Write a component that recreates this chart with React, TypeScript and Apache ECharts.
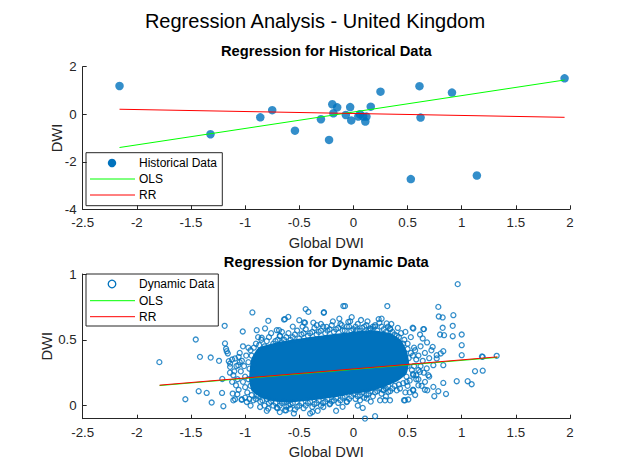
import React, { useEffect, useRef } from "react";
import * as echarts from "echarts";

const BLUE = "#0072BD";
const GREEN = "#00FF00";
const RED = "#FF0000";
const INK = "#262626";
const FONT = "'Liberation Sans', Arial, Helvetica, sans-serif";

const mainTitle = "Regression Analysis - United Kingdom";
const topTitle = "Regression for Historical Data";
const bottomTitle = "Regression for Dynamic Data";
const xLabel = "Global DWI";
const yLabel = "DWI";

const xTicks = [-2.5, -2, -1.5, -1, -0.5, 0, 0.5, 1, 1.5, 2];
const topYTicks = [-4, -2, 0, 2];
const bottomYTicks = [0, 0.5, 1];

// Historical data (global DWI, DWI)
const historical: number[][] = [
  [-2.16, 1.19], [-1.32, -0.84], [-0.86, -0.13], [-0.75, 0.17], [-0.7, 2.18],
  [-0.54, -0.69], [-0.3, -0.21], [-0.225, -1.08], [-0.195, 0.42], [-0.15, 0.29],
  [-0.185, 0.04], [-0.07, -0.03], [-0.03, 0.3], [-0.02, -0.26], [0.06, 0.0],
  [0.045, -0.1], [0.09, -0.1], [0.11, -0.31], [0.12, -0.1], [0.16, 0.32],
  [0.25, 0.95], [0.61, 1.18], [0.62, -0.14], [0.91, 0.91], [0.53, -2.73],
  [1.14, -2.58], [1.95, 1.51],
];
const histOLS: number[][] = [[-2.16, -1.4], [1.95, 1.44]];
const histRR: number[][] = [[-2.16, 0.21], [1.95, -0.13]];

// Dense core of the dynamic cloud (outline, data coordinates)
const dynamicCore: number[][] = [
  [-0.95, 0.2], [-0.93, 0.35], [-0.87, 0.43], [-0.7, 0.47], [-0.55, 0.49],
  [-0.4, 0.51], [-0.2, 0.53], [0.0, 0.55], [0.2, 0.56], [0.33, 0.54],
  [0.43, 0.49], [0.48, 0.41], [0.5, 0.33], [0.48, 0.25], [0.41, 0.2],
  [0.3, 0.16], [0.15, 0.12], [0.0, 0.1], [-0.2, 0.07], [-0.4, 0.05],
  [-0.6, 0.035], [-0.75, 0.045], [-0.86, 0.075], [-0.93, 0.12],
];

// Individually visible dynamic points (fringe and outliers)
const dynamicPoints: number[][] = [
  // far left outliers
  [-1.792, 0.33], [-1.456, 0.502], [-1.417, 0.37], [-1.552, 0.048], [-1.429, 0.109],
  [-1.355, 0.096], [-1.309, 0.023], [-1.318, 0.365], [-1.241, 0.34], [-1.189, 0.606],
  [-1.186, 0.472], [-1.211, 0.202], [-1.201, -0.005], [-1.213, 0.096], [-1.17, 0.413],
  [-1.176, 0.431], [-1.16, 0.396], [-1.151, 0.337], [-1.139, 0.319], [-1.139, 0.294],
  [-1.115, 0.091], [-1.093, 0.048], [-1.072, 0.086], [-1.031, 0.048], [-1.109, 0.231],
  [-1.084, 0.154], [-1.093, 0.358], [-1.063, 0.307], [-1.109, 0.04], [-1.032, 0.043],
  [-1.022, 0.563], [-0.933, 0.708], [-0.786, 0.644], [-0.847, 0.515], [-0.893, 0.573],
  [-0.816, 0.586], [-0.708, 0.573], [-0.678, 0.527], [-0.687, 0.573],
  // top outliers
  [-0.632, 0.657], [-0.601, 0.674], [-0.5, 0.649], [-0.441, 0.733], [-0.416, 0.712],
  [-0.447, 0.629], [-0.641, 0.654], [-0.456, 0.632], [-0.339, 0.611], [-0.274, 0.705],
  [-0.272, 0.71], [-0.247, 0.598], [-0.108, 0.611], [-0.093, 0.756], [-0.078, 0.756],
  [-0.047, 0.636], [-0.016, 0.672], [0.03, 0.573], [0.153, 0.586], [0.2, 0.611],
  [0.233, 0.657], [0.313, 0.756], [0.307, 0.624], [0.338, 0.586], [0.553, 0.586],
  [0.547, 0.591], [0.645, 0.581], [0.615, 0.54], [0.64, 0.51], [0.652, 0.581],
  // right outliers
  [0.963, 0.923], [0.788, 0.677], [0.917, 0.606], [1.0, 0.54], [0.917, 0.527],
  [0.824, 0.591], [0.8, 0.54], [0.837, 0.535], [0.923, 0.687], [0.784, 0.75],
  [0.824, 0.67], [1.0, 0.459], [0.732, 0.446], [0.83, 0.413], [0.806, 0.396],
  [0.769, 0.383], [1.0, 0.383], [1.187, 0.373], [1.323, 0.378], [1.194, 0.37],
  [1.123, 0.261], [1.194, 0.265], [0.954, 0.185], [1.055, 0.185], [1.092, 0.162],
  [0.83, 0.172], [0.855, 0.088], [0.747, 0.071], [0.784, 0.109], [0.738, 0.142],
  [0.682, 0.116], [0.6, 0.154], [0.661, 0.18], [0.692, 0.231], [0.738, 0.307],
  [0.677, 0.282], [0.615, 0.256], [0.83, 0.307], [0.769, 0.358], [0.553, 0.231],
  [0.492, 0.18], [0.553, 0.116], [0.467, 0.04], [0.507, 0.046], [0.476, 0.04],
  [0.4, 0.116], [0.322, 0.104], [0.276, 0.116],
  // bottom outliers
  [-0.509, -0.104], [-0.468, -0.104], [-0.426, -0.104], [-0.379, -0.049], [-0.585, -0.023],
  [-0.622, -0.036], [-0.278, -0.011], [-0.216, 0.015], [-0.062, 0.027], [0.086, -0.018],
  [0.107, -0.099], [0.2, -0.081], [0.061, 0.04], [0.123, 0.053], [0.246, 0.04],
  [0.292, 0.04], [0.338, 0.04], [-0.985, 0.027], [-0.924, 0.04], [-0.862, -0.011],
  [-0.786, -0.023], [-0.708, -0.015], [-0.632, -0.036], [-0.893, 0.078],
  // top fringe
  [-0.95, 0.42], [-0.9, 0.47], [-0.85, 0.5], [-0.82, 0.45], [-0.78, 0.52],
  [-0.72, 0.49], [-0.68, 0.53], [-0.64, 0.5], [-0.6, 0.55], [-0.56, 0.52],
  [-0.52, 0.57], [-0.48, 0.54], [-0.44, 0.58], [-0.4, 0.55], [-0.36, 0.59],
  [-0.32, 0.56], [-0.28, 0.6], [-0.24, 0.57], [-0.2, 0.61], [-0.16, 0.58],
  [-0.12, 0.62], [-0.08, 0.57], [-0.04, 0.6], [0.0, 0.58], [0.04, 0.62],
  [0.08, 0.59], [0.12, 0.61], [0.16, 0.58], [0.2, 0.6], [0.24, 0.63],
  [0.28, 0.58], [0.32, 0.6], [0.36, 0.56], [0.4, 0.53], [0.44, 0.55],
  [0.47, 0.5], [0.5, 0.47], [0.53, 0.52], [0.56, 0.44],
  [-0.92, 0.44], [-0.87, 0.46], [-0.8, 0.49], [-0.74, 0.47], [-0.7, 0.5],
  [-0.66, 0.48], [-0.62, 0.52], [-0.58, 0.5], [-0.54, 0.54], [-0.5, 0.51],
  [-0.46, 0.55], [-0.42, 0.53], [-0.38, 0.56], [-0.34, 0.54], [-0.3, 0.57],
  [-0.26, 0.55], [-0.22, 0.58], [-0.18, 0.56], [-0.14, 0.59], [-0.1, 0.57],
  [-0.06, 0.6], [-0.02, 0.57], [0.02, 0.6], [0.06, 0.57], [0.1, 0.6],
  [0.14, 0.57], [0.18, 0.6], [0.22, 0.57], [0.26, 0.6], [0.3, 0.56],
  [0.34, 0.58], [0.38, 0.54], [0.42, 0.52], [0.46, 0.47],
  [-0.88, 0.52], [-0.76, 0.55], [-0.66, 0.56], [-0.56, 0.6], [-0.47, 0.6],
  [-0.37, 0.63], [-0.3, 0.62], [-0.19, 0.64], [-0.13, 0.66], [-0.03, 0.64],
  [0.07, 0.65], [0.13, 0.64], [0.26, 0.66], [0.35, 0.62], [0.41, 0.59], [0.48, 0.56],
  // right fringe
  [0.55, 0.38], [0.58, 0.35], [0.56, 0.3], [0.6, 0.27], [0.55, 0.24],
  [0.58, 0.2], [0.52, 0.19], [0.5, 0.15], [0.46, 0.17], [0.43, 0.13],
  [0.5, 0.43], [0.53, 0.4], [0.57, 0.42], [0.6, 0.38], [0.62, 0.45],
  [0.64, 0.34], [0.66, 0.4], [0.68, 0.48], [0.62, 0.3], [0.65, 0.25],
  [0.7, 0.36], [0.72, 0.42], [0.6, 0.2], [0.63, 0.15], [0.55, 0.12],
  [0.52, 0.1], [0.57, 0.08], [0.48, 0.1], [0.5, 0.3], [0.54, 0.27],
  [0.58, 0.23], [0.7, 0.22], [0.66, 0.12], [0.51, 0.36], [0.49, 0.22],
  // bottom fringe
  [0.38, 0.15], [0.34, 0.11], [0.3, 0.13], [0.26, 0.09], [0.22, 0.11],
  [0.18, 0.07], [0.14, 0.09], [0.1, 0.06], [0.06, 0.08], [0.02, 0.05],
  [-0.02, 0.07], [-0.06, 0.03], [-0.1, 0.06], [-0.14, 0.02], [-0.18, 0.04],
  [-0.22, 0.01], [-0.26, 0.03], [-0.3, 0.0], [-0.34, 0.02], [-0.38, -0.01],
  [-0.42, 0.02], [-0.46, -0.02], [-0.5, 0.0], [-0.54, -0.03], [-0.58, 0.01],
  [-0.62, -0.01], [-0.66, 0.02], [-0.7, -0.02], [-0.74, 0.0], [-0.78, 0.02],
  [-0.82, 0.0], [-0.86, 0.03], [-0.9, 0.05],
  [0.42, 0.16], [0.36, 0.13], [0.32, 0.15], [0.28, 0.12], [0.24, 0.13],
  [0.2, 0.1], [0.16, 0.11], [0.12, 0.08], [0.08, 0.1], [0.04, 0.07],
  [0.0, 0.09], [-0.04, 0.05], [-0.08, 0.07], [-0.12, 0.04], [-0.16, 0.06],
  [-0.2, 0.03], [-0.24, 0.05], [-0.28, 0.02], [-0.32, 0.04], [-0.36, 0.01],
  [-0.4, 0.03], [-0.44, 0.0], [-0.48, 0.02], [-0.52, -0.01], [-0.56, 0.02],
  [-0.6, 0.0], [-0.64, 0.03], [-0.68, 0.0], [-0.72, 0.02], [-0.76, 0.03],
  [-0.8, 0.05], [-0.84, 0.04], [-0.88, 0.07],
  [0.3, 0.07], [0.16, 0.03], [0.04, 0.0], [-0.1, -0.01], [-0.16, -0.04],
  [-0.33, -0.04], [-0.4, -0.06], [-0.55, -0.06], [-0.68, -0.05], [-0.8, -0.04],
  [-0.95, 0.0],
  // left fringe
  [-0.94, 0.08], [-0.98, 0.1], [-1.0, 0.14], [-1.02, 0.18], [-1.0, 0.22],
  [-1.04, 0.26], [-1.01, 0.3], [-1.03, 0.34], [-0.99, 0.38], [-1.05, 0.4],
  [-0.97, 0.44], [-0.95, 0.15], [-0.97, 0.2], [-0.96, 0.28], [-0.97, 0.33],
  [-0.94, 0.38], [-1.06, 0.12], [-1.07, 0.2], [-1.08, 0.3], [-1.05, 0.33],
  [-1.1, 0.26], [-1.06, 0.37], [-1.02, 0.45], [-1.0, 0.06], [-0.96, 0.05],
  [-1.12, 0.18], [-1.12, 0.35], [-1.14, 0.25], [-0.93, 0.25], [-0.92, 0.31],
];
const dynOLS: number[][] = [[-1.79, 0.152], [1.33, 0.366]];
const dynRR: number[][] = [[-1.79, 0.155], [1.33, 0.37]];

const GRID_LEFT = 82.7;
const GRID_RIGHT = 60;

function xAxisCfg(gridIndex: number) {
  return {
    type: "value",
    gridIndex,
    min: xTicks[0],
    max: xTicks[xTicks.length - 1],
    interval: 0.5,
    name: xLabel,
    nameLocation: "middle",
    nameGap: 26,
    nameTextStyle: { color: INK, fontSize: 14.7, fontFamily: FONT },
    axisLine: { show: true, onZero: false, lineStyle: { color: INK, width: 1 } },
    axisTick: { show: true, inside: true, length: 4, lineStyle: { color: INK } },
    axisLabel: { color: INK, fontSize: 13.3, fontFamily: FONT, margin: 7 },
    splitLine: { show: false },
  };
}

function yNameText(x: number, y: number) {
  return {
    type: "text", x, y, z: 100, rotation: Math.PI / 2,
    style: { text: yLabel, fill: INK, font: `14.7px ${FONT}`, textAlign: "center", textVerticalAlign: "middle" },
  };
}

export default function App() {
  const ref = useRef<HTMLDivElement>(null);
  useEffect(() => {
    if (!ref.current) return;
    const chart = echarts.init(ref.current, null, { renderer: "svg" });
    const option: any = {
      animation: false,
      backgroundColor: "#ffffff",
      grid: [
        { left: GRID_LEFT, right: GRID_RIGHT, top: 66.7, height: 142.6 },
        { left: GRID_LEFT, right: GRID_RIGHT, top: 274, height: 144.7 },
      ],
      xAxis: [xAxisCfg(0), xAxisCfg(1)],
      yAxis: [
        {
          type: "value",
          gridIndex: 0,
          min: topYTicks[0],
          max: topYTicks[topYTicks.length - 1],
          interval: 2,
          axisLine: { show: true, onZero: false, lineStyle: { color: INK, width: 1 } },
          axisTick: { show: true, inside: true, length: 4, lineStyle: { color: INK } },
          axisLabel: { color: INK, fontSize: 13.3, fontFamily: FONT, margin: 6 },
          splitLine: { show: false },
        },
        {
          type: "value",
          gridIndex: 1,
          min: -0.1,
          max: 1,
          axisLine: { show: true, onZero: false, lineStyle: { color: INK, width: 1 } },
          axisTick: {
            show: true, inside: true, length: 4, lineStyle: { color: INK },
            customValues: bottomYTicks,
          },
          axisLabel: {
            color: INK, fontSize: 13.3, fontFamily: FONT, margin: 6,
            customValues: bottomYTicks,
          },
          splitLine: { show: false },
        },
      ],
      series: [
        {
          type: "scatter",
          xAxisIndex: 0,
          yAxisIndex: 0,
          data: historical,
          symbol: "circle",
          symbolSize: 8.5,
          itemStyle: { color: BLUE },
          silent: true,
          z: 2,
        },
        {
          type: "line",
          xAxisIndex: 0,
          yAxisIndex: 0,
          data: histOLS,
          showSymbol: false,
          lineStyle: { color: GREEN, width: 1 },
          silent: true,
          z: 3,
        },
        {
          type: "line",
          xAxisIndex: 0,
          yAxisIndex: 0,
          data: histRR,
          showSymbol: false,
          lineStyle: { color: RED, width: 1 },
          silent: true,
          z: 3,
        },
        {
          type: "custom",
          xAxisIndex: 1,
          yAxisIndex: 1,
          data: dynamicCore,
          silent: true,
          z: 1,
          renderItem: (params: any, api: any) => {
            if (params.dataIndex !== 0) return null;
            const pts = dynamicCore.map((p) => api.coord(p));
            return {
              type: "polygon",
              shape: { points: pts, smooth: 0.15 },
              style: { fill: BLUE, stroke: BLUE, lineWidth: 3 },
            };
          },
        },
        {
          type: "scatter",
          xAxisIndex: 1,
          yAxisIndex: 1,
          data: dynamicPoints,
          symbol: "circle",
          symbolSize: 5,
          itemStyle: { color: "rgba(0,0,0,0)", borderColor: BLUE, borderWidth: 1.3 },
          silent: true,
          z: 2,
        },
        {
          type: "line",
          xAxisIndex: 1,
          yAxisIndex: 1,
          data: dynOLS,
          showSymbol: false,
          lineStyle: { color: GREEN, width: 1 },
          silent: true,
          z: 3,
        },
        {
          type: "line",
          xAxisIndex: 1,
          yAxisIndex: 1,
          data: dynRR,
          showSymbol: false,
          lineStyle: { color: RED, width: 1 },
          silent: true,
          z: 4,
        },
      ],
      graphic: [
        {
          type: "text", x: 315, y: 21, z: 100,
          style: { text: mainTitle, fill: "#000", font: `20px ${FONT}`, textAlign: "center", textVerticalAlign: "middle" },
        },
        {
          type: "text", x: 326.3, y: 51, z: 100,
          style: { text: topTitle, fill: "#000", font: `bold 14.7px ${FONT}`, textAlign: "center", textVerticalAlign: "middle" },
        },
        {
          type: "text", x: 326.3, y: 262, z: 100,
          style: { text: bottomTitle, fill: "#000", font: `bold 14.7px ${FONT}`, textAlign: "center", textVerticalAlign: "middle" },
        },
        yNameText(57, 138),
        yNameText(47, 346.3),
        // top legend
        {
          type: "group", z: 100,
          children: [
            { type: "rect", shape: { x: 86, y: 152.7, width: 136.3, height: 53 }, style: { fill: "#fff", stroke: INK, lineWidth: 1 } },
            { type: "circle", shape: { cx: 112, cy: 163, r: 4.2 }, style: { fill: BLUE } },
            { type: "text", x: 139, y: 163, style: { text: "Historical Data", fill: "#000", font: `12px ${FONT}`, textVerticalAlign: "middle" } },
            { type: "line", shape: { x1: 90, y1: 179, x2: 135, y2: 179 }, style: { stroke: GREEN, lineWidth: 1 } },
            { type: "text", x: 139, y: 179, style: { text: "OLS", fill: "#000", font: `12px ${FONT}`, textVerticalAlign: "middle" } },
            { type: "line", shape: { x1: 90, y1: 195, x2: 135, y2: 195 }, style: { stroke: RED, lineWidth: 1 } },
            { type: "text", x: 139, y: 195, style: { text: "RR", fill: "#000", font: `12px ${FONT}`, textVerticalAlign: "middle" } },
          ],
        },
        // bottom legend
        {
          type: "group", z: 100,
          children: [
            { type: "rect", shape: { x: 86, y: 274, width: 132.3, height: 52 }, style: { fill: "#fff", stroke: INK, lineWidth: 1 } },
            { type: "circle", shape: { cx: 112, cy: 284, r: 3.8 }, style: { fill: "none", stroke: BLUE, lineWidth: 1.3 } },
            { type: "text", x: 139, y: 284, style: { text: "Dynamic Data", fill: "#000", font: `12px ${FONT}`, textVerticalAlign: "middle" } },
            { type: "line", shape: { x1: 90, y1: 300.7, x2: 135, y2: 300.7 }, style: { stroke: GREEN, lineWidth: 1 } },
            { type: "text", x: 139, y: 300.7, style: { text: "OLS", fill: "#000", font: `12px ${FONT}`, textVerticalAlign: "middle" } },
            { type: "line", shape: { x1: 90, y1: 316.7, x2: 135, y2: 316.7 }, style: { stroke: RED, lineWidth: 1 } },
            { type: "text", x: 139, y: 316.7, style: { text: "RR", fill: "#000", font: `12px ${FONT}`, textVerticalAlign: "middle" } },
          ],
        },
      ],
    };
    chart.setOption(option);
    return () => chart.dispose();
  }, []);
  return (
    <div
      ref={ref}
      style={{ position: "fixed", left: 0, top: 0, width: 630, height: 472, background: "#fff" }}
    />
  );
}
